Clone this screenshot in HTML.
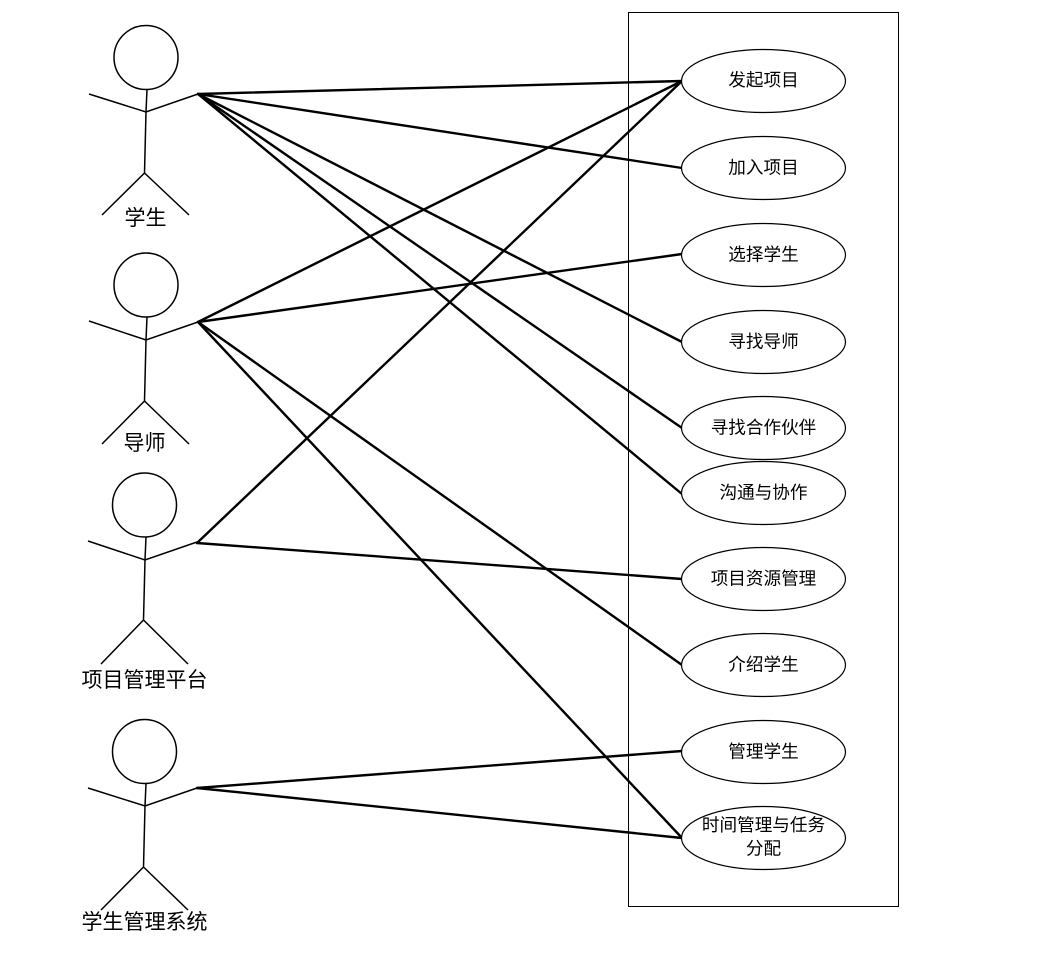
<!DOCTYPE html>
<html lang="zh">
<head>
<meta charset="utf-8">
<style>
html,body{margin:0;padding:0;background:#fff;}
svg{display:block;}
text{font-family:"Liberation Sans","Noto Sans CJK SC",sans-serif;fill:#000;text-anchor:middle;}
.s{font-size:17.6px;}
.a{font-size:21px;}
.l{stroke:#000;stroke-width:2.4;fill:none;stroke-linecap:round;}
.f{stroke:#000;stroke-width:1.5;fill:none;}
.e{stroke:#000;stroke-width:1.2;fill:#fff;}
</style>
</head>
<body>
<svg width="1050" height="961" viewBox="0 0 1050 961" xmlns="http://www.w3.org/2000/svg">
<rect width="1050" height="961" fill="#fff"/>
<rect x="628.5" y="12.5" width="270" height="894" fill="none" stroke="#000" stroke-width="1"/>

<g class="f">
<circle cx="146" cy="57.500" r="32"/>
<path d="M147 89.500L146 112M89 94L146 112L198 94M146 112L144.500 173M144.500 173L102 215M144.500 173L189 215"/>
<circle cx="146" cy="285" r="32"/>
<path d="M147 317L146 340M89 321L146 340L198 322M146 340L144.500 401M144.500 401L102 444M144.500 401L189 444"/>
<circle cx="144.500" cy="505" r="32"/>
<path d="M146 537L145 560M88 541L145 560L197 542M145 560L143.500 620M143.500 620L101 664M143.500 620L188 664"/>
<circle cx="144.500" cy="751.500" r="32"/>
<path d="M146 783.500L145 806M88 788L145 806L197 788M145 806L143.500 867M143.500 867L101 910M143.500 867L188 910"/>
</g>

<g class="l">
<path d="M198 94L682 81"/>
<path d="M198 94L682 168"/>
<path d="M198 94L682 342"/>
<path d="M198 94L682 428"/>
<path d="M198 94L682 494"/>
<path d="M198 322L682 81"/>
<path d="M198 322L682 254"/>
<path d="M198 322L682 665"/>
<path d="M198 322L682 838"/>
<path d="M197 543L682 81"/>
<path d="M197 543L682 579"/>
<path d="M197 788L682 751"/>
<path d="M197 788L682 838"/>
</g>

<g class="e">
<ellipse cx="763.500" cy="81" rx="82" ry="31.500"/>
<ellipse cx="763.500" cy="168" rx="82" ry="31.500"/>
<ellipse cx="763.500" cy="255" rx="82" ry="31.500"/>
<ellipse cx="763.500" cy="342" rx="82" ry="31.500"/>
<ellipse cx="763.500" cy="428" rx="82" ry="31.500"/>
<ellipse cx="763.500" cy="493" rx="82" ry="31.500"/>
<ellipse cx="763.500" cy="579" rx="82" ry="31.500"/>
<ellipse cx="763.500" cy="665" rx="82" ry="31.500"/>
<ellipse cx="763.500" cy="752" rx="82" ry="31.500"/>
<ellipse cx="763.500" cy="838" rx="82" ry="31.500"/>
</g>

<text class="a" x="145.500" y="225">学生</text>
<text class="a" x="144.500" y="450">导师</text>
<text class="a" x="144.500" y="687">项目管理平台</text>
<text class="a" x="144.500" y="929">学生管理系统</text>

<text class="s" x="763.500" y="86">发起项目</text>
<text class="s" x="763.500" y="173.500">加入项目</text>
<text class="s" x="763.500" y="260.500">选择学生</text>
<text class="s" x="763.500" y="347.500">寻找导师</text>
<text class="s" x="763.500" y="433.500">寻找合作伙伴</text>
<text class="s" x="763.500" y="498.500">沟通与协作</text>
<text class="s" x="763.500" y="584.500">项目资源管理</text>
<text class="s" x="763.500" y="670.500">介绍学生</text>
<text class="s" x="763.500" y="757.500">管理学生</text>
<text class="s" x="763.500" y="831">时间管理与任务</text>
<text class="s" x="763.500" y="854.500">分配</text>
</svg>
</body>
</html>
